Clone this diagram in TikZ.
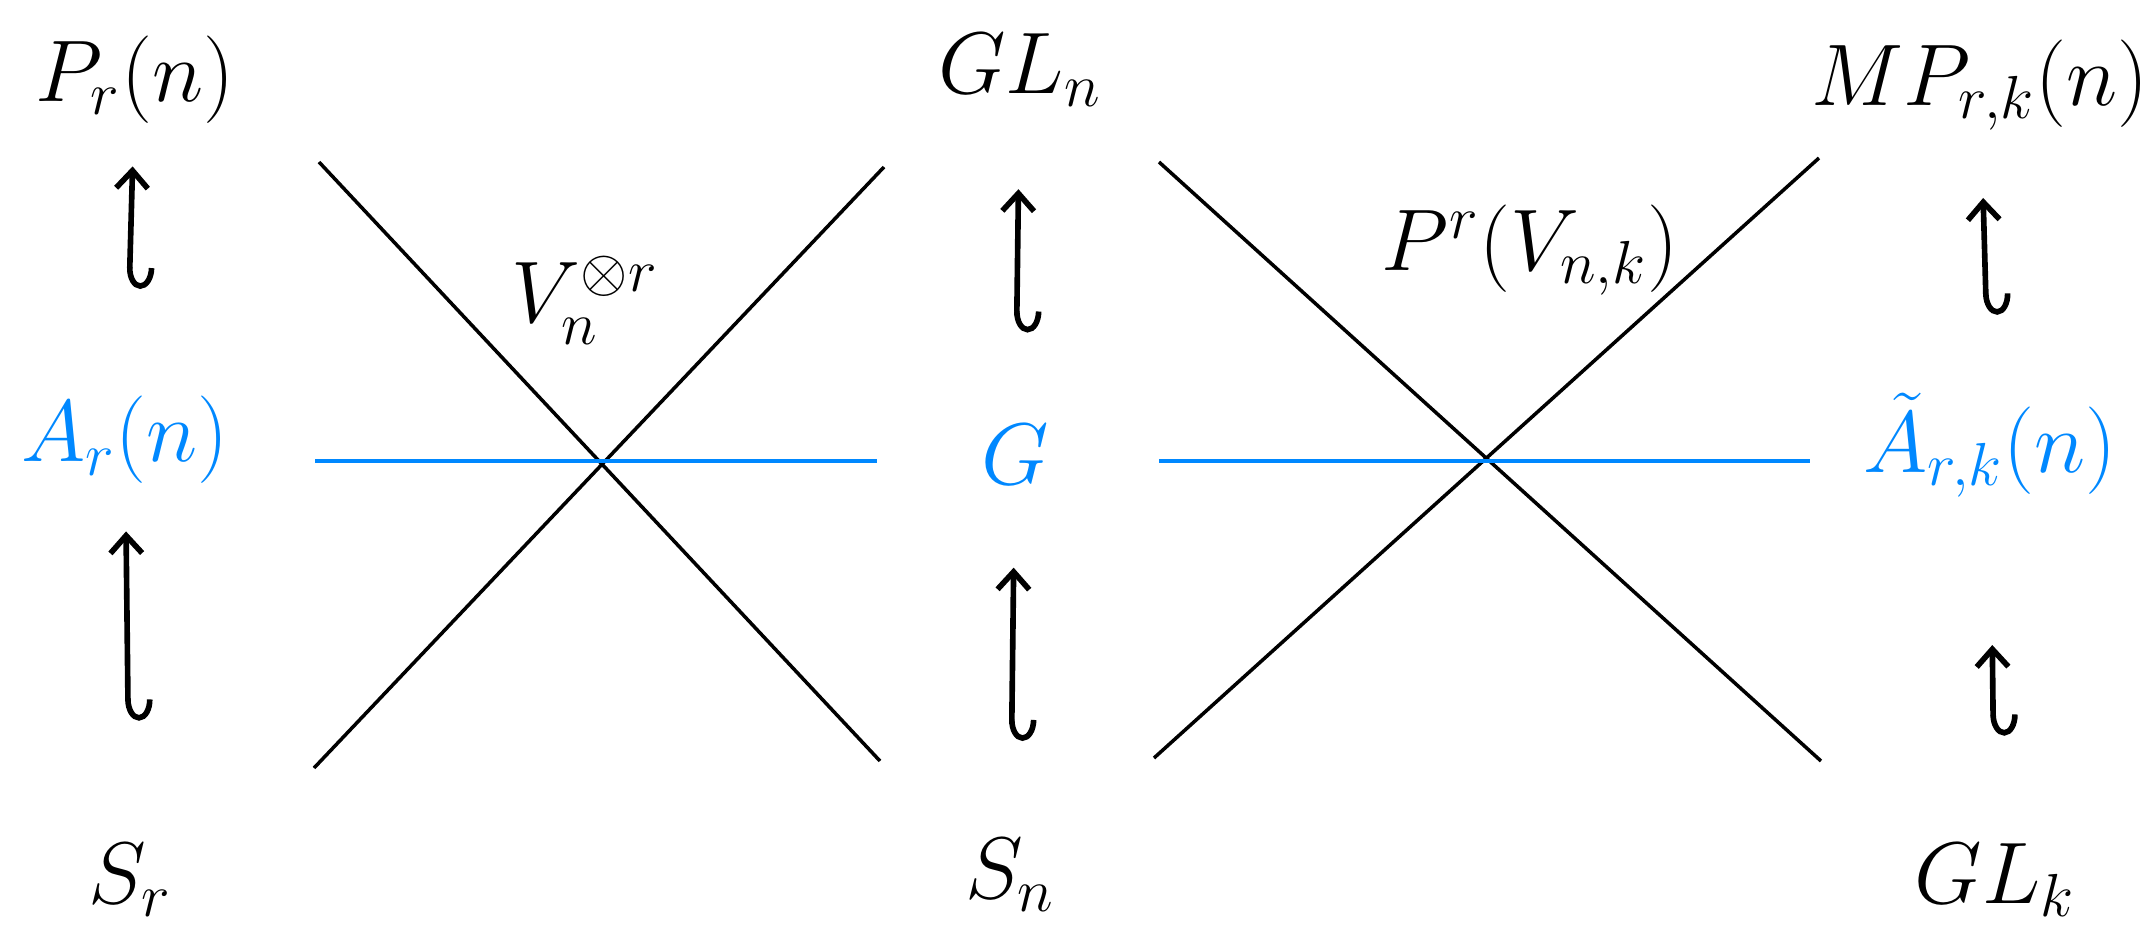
\documentclass[tikz,border=0pt]{standalone}
\usepackage{amsmath}
\usetikzlibrary{arrows.meta,positioning}
\definecolor{dualblue}{RGB}{0,136,255}

\begin{document}
\begin{tikzpicture}[x=0.01cm,y=-0.01cm,
  obj/.style={font=\fontsize{25}{30}\selectfont,inner sep=2pt},
  subobj/.style={obj,text=dualblue},
  incl/.style={{Hooks[left,length=6pt,width=14pt]}-{Straight Barb[length=5pt,width=9pt]},
               line width=1.6pt,line cap=round},
  pair/.style={line width=1pt},
  pairblue/.style={pair,draw=dualblue},
]
\useasboundingbox (0,0) rectangle (2150,933);

% left column
\node[obj]    (Pr) at (135,80)  {$P_r(n)$};
\node[subobj] (Ar) at (125,440) {$A_r(n)$};
\node[obj]    (Sr) at (130,880) {$S_r$};

% middle column
\node[obj]    (GLn) at (1020,70)  {$GL_n$};
\node[subobj] (G)   at (1015,455) {$G$};
\node[obj]    (Sn)  at (1010,875) {$S_n$};

% right column
\node[obj]    (MP)   at (1980,85)  {$MP_{r,k}(n)$};
\node[subobj] (Atil) at (1990,445) {$\tilde{A}_{r,k}(n)$};
\node[obj]    (GLk)  at (1995,880) {$GL_k$};

% inclusions
\draw[incl,shorten <=1.15cm,shorten >=0.4cm]  (Sr) -- (Ar);
\draw[incl,shorten <=1.0cm,shorten >=0.35cm] (Ar) -- (Pr);
\draw[incl,shorten <=0.9cm,shorten >=0.75cm] (Sn) -- (G);
\draw[incl,shorten <=0.85cm,shorten >=0.75cm] (G) -- (GLn);
\draw[incl,shorten <=1.0cm,shorten >=1.4cm] (GLk) -- (Atil);
\draw[incl,shorten <=0.7cm,shorten >=0.6cm]  (Atil) -- (MP);

% left see-saw
\coordinate (la) at (319,162);
\coordinate (lb) at (880,761);
\coordinate (lc) at (314,768);
\coordinate (ld) at (884,167);
\coordinate (le) at (315,461);
\coordinate (lf) at (877,461);
\draw[pair] (la) -- (lb);
\draw[pair] (lc) -- (ld);
\draw[pairblue] (le) -- (lf);
\node[obj] (Vn) at (585,300) {$V_n^{\otimes r}$};

% right see-saw
\coordinate (ra) at (1159,162);
\coordinate (rb) at (1821,761);
\coordinate (rc) at (1154,758);
\coordinate (rd) at (1819,158);
\coordinate (re) at (1159,461);
\coordinate (rf) at (1810,461);
\draw[pair] (ra) -- (rb);
\draw[pair] (rc) -- (rd);
\draw[pairblue] (re) -- (rf);
\node[obj] (PV) at (1530,250) {$P^r(V_{n,k})$};

\end{tikzpicture}
\end{document}
